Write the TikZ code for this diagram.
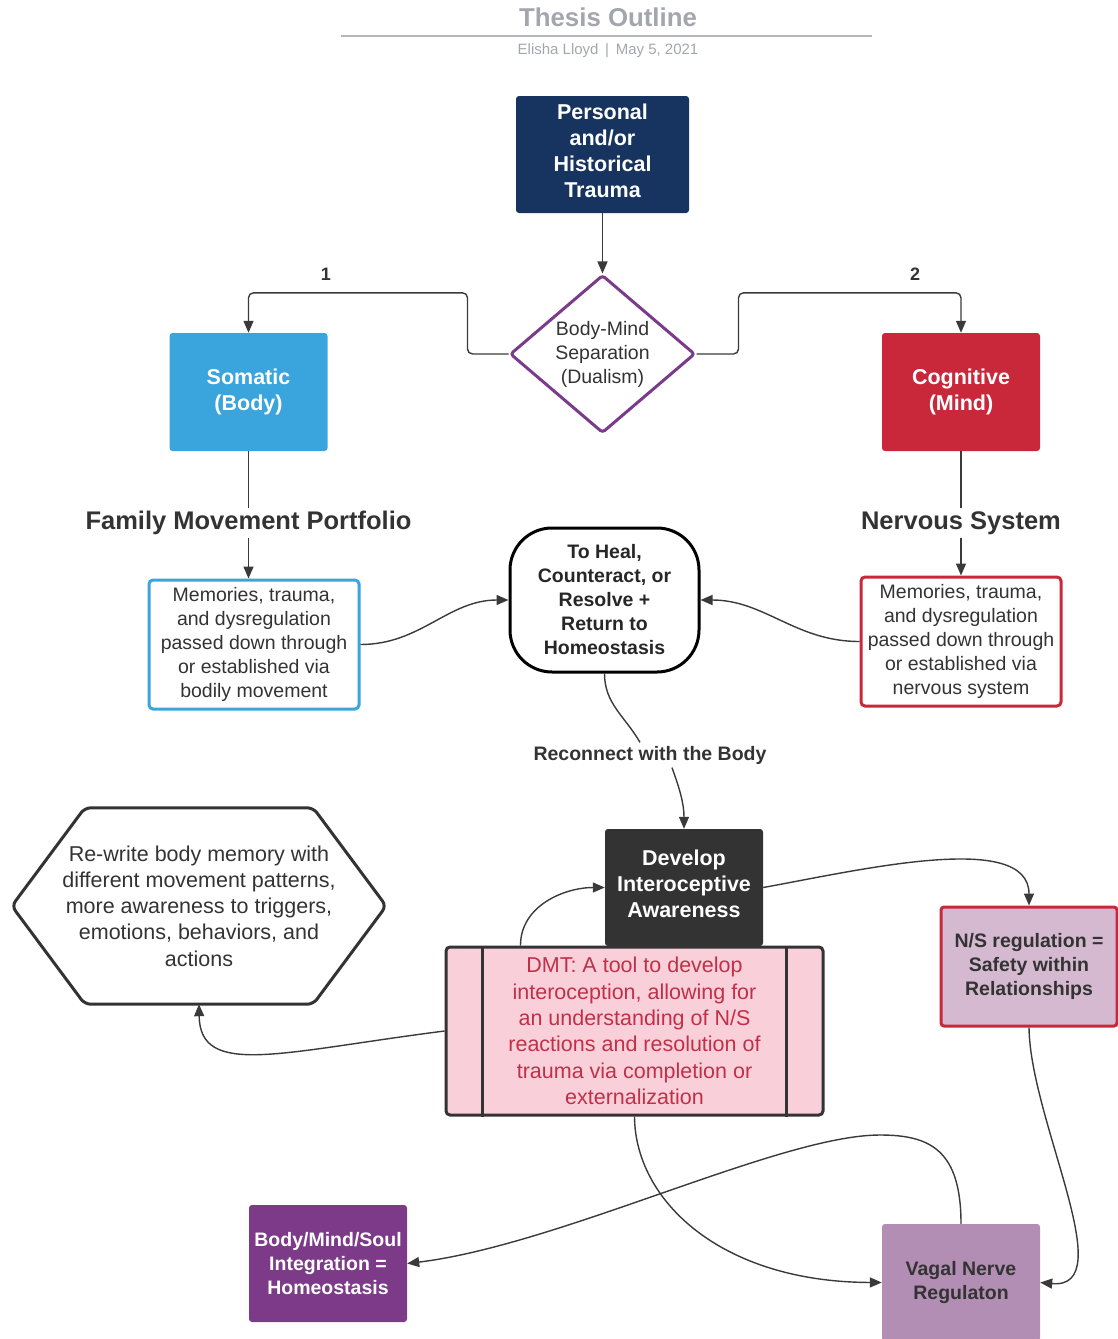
\documentclass[tikz,border=0pt]{standalone}
\usepackage{fontspec}
\setmainfont{Liberation Sans}
\usetikzlibrary{arrows.meta, positioning, shapes.geometric}

\definecolor{titlegrey}{HTML}{A3A6AD}
\definecolor{rulegrey}{HTML}{B4B7BC}
\definecolor{darktext}{HTML}{333333}
\definecolor{linegrey}{HTML}{3A3A3A}
\definecolor{navy}{HTML}{17335F}
\definecolor{somablue}{HTML}{3AA4DD}
\definecolor{cogred}{HTML}{C8283A}
\definecolor{dualpurple}{HTML}{7A3B8A}
\definecolor{devgrey}{HTML}{333333}
\definecolor{dmtpink}{HTML}{F9D0DA}
\definecolor{dmtred}{HTML}{C03048}
\definecolor{nsmauve}{HTML}{D5B9D1}
\definecolor{vagmauve}{HTML}{B28DB4}
\definecolor{bmspurple}{HTML}{7C3A89}

\begin{document}
\begin{tikzpicture}[
  x=1pt, y=1pt,
  box/.style={rectangle, rounded corners=3pt, minimum width=158pt, minimum height=117pt,
              align=center, inner sep=2pt},
  bigwhite/.style={text=white, font=\bfseries\fontsize{21.5}{26}\selectfont},
  smallwhite/.style={text=white, font=\bfseries\fontsize{19.5}{24}\selectfont},
  smalldark/.style={text=darktext, font=\bfseries\fontsize{19.5}{24}\selectfont},
  membox/.style={rectangle, rounded corners=4pt, line width=3pt, fill=white, align=center,
                 text=darktext, font=\fontsize{19.5}{24}\selectfont},
  sectionlabel/.style={text=darktext, font=\bfseries\fontsize{25.5}{30}\selectfont},
  steplabel/.style={text=darktext, font=\bfseries\fontsize{18}{22}\selectfont},
  plain/.style={line width=1.4pt, draw=linegrey},
  edge/.style={-{Triangle[length=12pt, width=10pt]}, line width=1.4pt, draw=linegrey},
]
  \useasboundingbox (0,0) rectangle (1117,-1339);

  % heading
  \node[text=titlegrey, font=\bfseries\fontsize{25.8}{30}\selectfont] (title) at (608,-17) {Thesis Outline};
  \draw[rulegrey, line width=2pt] (341,-36) -- (872,-36);
  \node[text=titlegrey, font=\fontsize{15}{18}\selectfont] (byline) at (608,-51) {Elisha Lloyd \,|\, May 5, 2021};

  % top of the outline
  \node[box, fill=navy, bigwhite, minimum width=173pt, text depth=8pt] (trauma) at (602.5,-154.5) {Personal\\and/or\\Historical\\Trauma};
  \node[diamond, draw=dualpurple, line width=3pt, rounded corners=3pt, minimum width=185pt, minimum height=158pt,
        inner sep=0pt, aspect=1.17, align=center, text=darktext, font=\fontsize{19.5}{24}\selectfont]
        (dual) at (602.5,-354) {Body-Mind\\Separation\\(Dualism)};
  \node[box, fill=somablue, bigwhite, minimum height=118pt] (soma) at (248.5,-392) {Somatic\\(Body)};
  \node[box, fill=cogred, bigwhite, minimum height=118pt] (cog) at (961,-392) {Cognitive\\(Mind)};
  \node[steplabel] (one) at (326,-274) {1};
  \node[steplabel] (two) at (915,-274) {2};

  \draw[edge] (trauma) -- (dual);
  \draw[edge, rounded corners=5pt] (dual.west) -- ++(-41,0) |- ([yshift=40pt]soma.north) -- (soma.north);
  \draw[edge, rounded corners=5pt] (dual.east) -- ++(42,0) |- ([yshift=40pt]cog.north) -- (cog.north);

  % the two branches
  \node[sectionlabel] (fmp) at (248.5,-523) {Family Movement Portfolio};
  \node[sectionlabel] (nervous) at (961,-523) {Nervous System};
  \node[membox, draw=somablue, minimum width=210pt, minimum height=129pt] (memL) at (254,-644.5)
        {Memories, trauma,\\and dysregulation\\passed down through\\or established via\\bodily movement};
  \node[membox, draw=cogred, minimum width=200pt, minimum height=129pt] (memR) at (961,-641.5)
        {Memories, trauma,\\and dysregulation\\passed down through\\or established via\\nervous system};
  \node[draw=black, line width=3pt, rounded corners=42pt, minimum width=189pt, minimum height=144pt,
        align=center, text=black!85, font=\bfseries\fontsize{19.5}{24}\selectfont]
        (heal) at (604.5,-600) {To Heal,\\Counteract, or\\Resolve +\\Return to\\Homeostasis};

  \draw[plain] (soma) -- (fmp);
  \draw[edge] (fmp) -- (fmp |- memL.north);
  \draw[plain] (cog) -- (nervous);
  \draw[edge] (nervous) -- (nervous |- memR.north);
  \draw[edge] (memL.east) to[out=0, in=180] (heal.west);
  \draw[edge] (memR.west) to[out=180, in=0] (heal.east);

  % reconnecting
  \node[smalldark] (reconnect) at (650,-755) {Reconnect with the Body};
  \node[box, fill=devgrey, bigwhite, text depth=8pt] (dev) at (684,-887.5) {Develop\\Interoceptive\\Awareness};
  \node[rectangle, draw=darktext, line width=3pt, rounded corners=4pt, fill=dmtpink, minimum width=377pt,
        minimum height=168pt, align=center, text=dmtred, font=\fontsize{21.5}{26.3}\selectfont]
        (dmt) at (634.5,-1031) {DMT: A tool to develop\\interoception, allowing for\\an understanding of N/S\\reactions and resolution of\\trauma via completion or\\externalization};
  \draw[darktext, line width=3pt] ([xshift=38pt]dmt.north west) -- ([xshift=38pt]dmt.south west);
  \draw[darktext, line width=3pt] ([xshift=-38pt]dmt.north east) -- ([xshift=-38pt]dmt.south east);

  \node[minimum width=374pt, minimum height=196pt, align=center, text=darktext,
        font=\fontsize{21.5}{26.3}\selectfont] (rewrite) at (199,-906)
        {Re-write body memory with\\different movement patterns,\\more awareness to triggers,\\emotions, behaviors, and\\actions};
  \draw[darktext, line width=3pt, rounded corners=6pt] (rewrite.west) -- ([xshift=73pt]rewrite.north west)
        -- ([xshift=-73pt]rewrite.north east) -- (rewrite.east) -- ([xshift=-73pt]rewrite.south east)
        -- ([xshift=73pt]rewrite.south west) -- cycle;

  \node[box, fill=nsmauve, draw=cogred, line width=3pt, minimum width=176pt, minimum height=119pt, smalldark]
        (ns) at (1029,-966.5) {N/S regulation =\\Safety within\\Relationships};
  \node[box, fill=vagmauve, smalldark] (vag) at (961,-1282.5) {Vagal Nerve\\Regulaton};
  \node[box, fill=bmspurple, smallwhite] (bms) at (328,-1263.5) {Body/Mind/Soul\\Integration =\\Homeostasis};

  \draw[plain] (heal.south) to[out=-90, in=120] ([xshift=-10pt]reconnect.north);
  \draw[edge] ([xshift=22pt]reconnect.south) to[out=-70, in=90] (dev.north);
  \draw[edge] ([xshift=76pt]dmt.north west) to[out=90, in=180] (dev.west);
  \draw[edge] (dmt.west) .. controls (280,-1052) and (200,-1078) .. (rewrite.south);
  \draw[edge] (dev.east) .. controls (860,-870) and (1029,-830) .. (ns.north);
  \draw[edge] (ns.south) .. controls (1030,-1120) and (1122,-1290) .. (vag.east);
  \draw[edge] (dmt.south) .. controls (635,-1200) and (720,-1282) .. (vag.west);
  \draw[edge] (vag.north) .. controls (961,-1150) and (930,-1135) .. (880,-1135)
        .. controls (780,-1135) and (560,-1245) .. (bms.east);
\end{tikzpicture}
\end{document}
